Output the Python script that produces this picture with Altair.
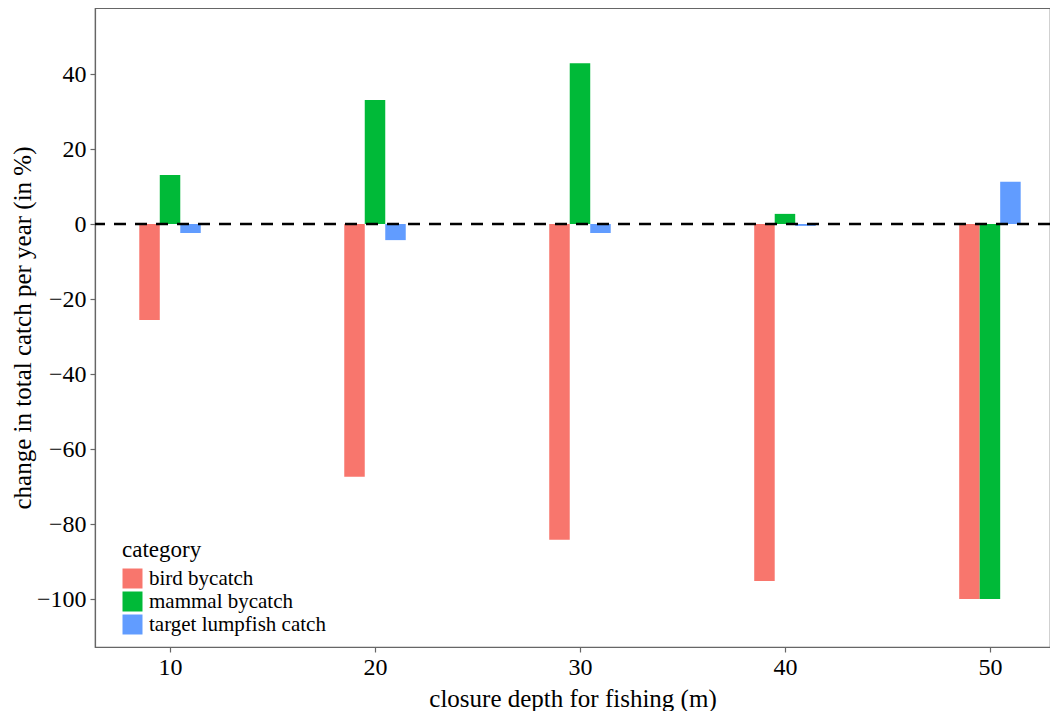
import altair as alt
import pandas as pd

depths = [10, 20, 30, 40, 50]
categories = ["bird bycatch", "mammal bycatch", "target lumpfish catch"]
bird = [-25.6, -67.4, -84.2, -95.2, -100.0]
mammal = [13.1, 33.1, 42.9, 2.7, -100.0]
target = [-2.4, -4.3, -2.4, -0.5, 11.3]
colors = ["#F8766D", "#00BA38", "#619CFF"]

rows = []
for i, d in enumerate(depths):
    for k, (cat, vals) in enumerate(zip(categories, [bird, mammal, target])):
        rows.append({"depth": d, "category": cat, "idx": k, "value": vals[i]})
df = pd.DataFrame(rows)

FONT = "Liberation Serif"
xscale = alt.Scale(domain=[6.34, 52.93], nice=False, zero=False)
yscale = alt.Scale(domain=[-112.8, 57.6], nice=False, zero=False)

bars = alt.Chart(df).transform_calculate(
    x1="datum.depth + (datum.idx - 1) - 0.5",
    x2="datum.depth + (datum.idx - 1) + 0.5",
).mark_bar(opacity=1, strokeWidth=0).encode(
    x=alt.X("x1:Q", scale=xscale,
            axis=alt.Axis(values=depths, title="closure depth for fishing (m)",
                          format="d", grid=False)),
    x2="x2:Q",
    y=alt.Y("value:Q", scale=yscale,
            axis=alt.Axis(values=[-100, -80, -60, -40, -20, 0, 20, 40],
                          title="change in total catch per year (in %)", grid=False)),
    y2=alt.datum(0),
    color=alt.Color("category:N", scale=alt.Scale(domain=categories, range=colors),
                    legend=alt.Legend(title="category", orient="none",
                                      legendX=27, legendY=531,
                                      symbolType="square", symbolSize=400,
                                      symbolStrokeWidth=0, symbolOpacity=1,
                                      labelFontSize=21, titleFontSize=23,
                                      labelFont=FONT, titleFont=FONT,
                                      titleFontWeight="normal", labelColor="black",
                                      titleColor="black", rowPadding=1,
                                      labelOffset=6, titlePadding=6,
                                      labelLimit=400)),
)

zero = alt.Chart(pd.DataFrame({"z": [0]})).mark_rule(
    color="black", strokeWidth=2.5, strokeDash=[12, 9]
).encode(y=alt.Y("z:Q", scale=yscale))

chart = alt.layer(bars, zero).properties(
    width=955, height=639,
    autosize=alt.AutoSizeParams(type="none"),
    padding={"left": 87, "top": 0, "right": 0, "bottom": 64},
).configure_view(
    stroke="#666666", strokeWidth=1.2
).configure_axis(
    labelFont=FONT, titleFont=FONT, labelFontSize=24, titleFontSize=25,
    labelColor="black", titleColor="black", titleFontWeight="normal",
    domainColor="#666666", tickColor="#666666", tickSize=5, tickWidth=1.2,
    domainWidth=1.2, labelPadding=3,
).configure_axisY(
    titlePadding=1, titleFontSize=25, labelPadding=4,
).configure_axisX(
    titlePadding=7,
)

chart.save("out.html", embed_options={"renderer": "svg", "actions": False})
